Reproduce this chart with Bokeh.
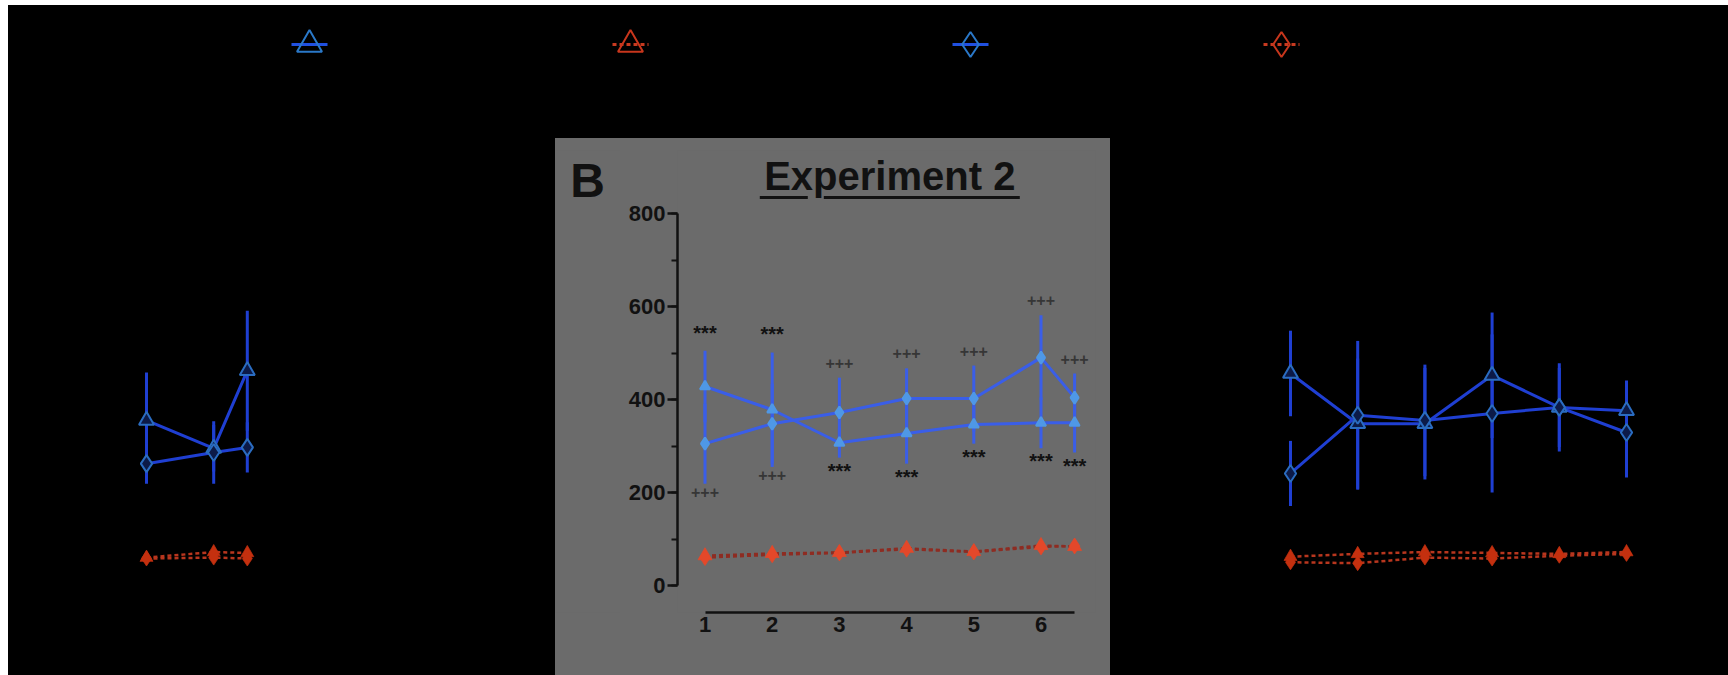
from bokeh.plotting import figure
from bokeh.layouts import column, row, Spacer
from bokeh.models import Range1d, FixedTicker, SingleIntervalTicker, Label, ColumnDataSource
from bokeh.embed import file_html
from bokeh.resources import INLINE
from bokeh.core.properties import value

# ---------------- data ----------------
left_sessions = [1, 2, 2.5]
left_tri = [355, 295, 462]
left_tri_err = [103, 50, 129]
left_dia = [262, 286, 297]
left_dia_err = [43, 67, 54]
left_red_tri = [60, 72, 70]
left_red_dia = [58, 60, 58]

mid_sessions = [1, 2, 3, 4, 5, 6, 6.5]
mid_tri = [428, 378, 307, 327, 346, 350, 350]
mid_tri_err = [77, 123, 32, 65, 41, 55, 64]
mid_dia = [305, 348, 372, 402, 402, 490, 404]
mid_dia_err = [86, 86, 75, 65, 71, 91, 52]
mid_red_tri = [64, 69, 71, 80, 73, 86, 84]
mid_red_dia = [60, 66, 70, 78, 72, 83, 85]
mid_sig_above = ["***", "***", "+++", "+++", "+++", "+++", "+++"]
mid_sig_below = ["+++", "+++", "***", "***", "***", "***", "***"]

right_sessions = [1, 2, 3, 4, 5, 6]
right_tri = [456, 348, 348, 452, 383, 376]
right_tri_err = [92, 140, 120, 135, 95, 65]
right_dia = [241, 366, 355, 370, 383, 329]
right_dia_err = [70, 160, 120, 170, 85, 97]
right_red_tri = [62, 68, 72, 70, 68, 72]
right_red_dia = [50, 48, 60, 58, 64, 68]

x_ticks = [1, 2, 3, 4, 5, 6]
x_tick_labels = ["1", "2", "3", "4", "5", "6"]
y_axis_bounds = (0, 800)
panel_letter = "B"
title_text = "Experiment 2"

# ---------------- layout constants (page pixels) ----------------
PAGE_W, PAGE_H = 1728, 675
MARGIN_L, MARGIN_T = 8, 5
ROW_TOP = 138
TOP_H = ROW_TOP - MARGIN_T
ROW_H = PAGE_H - ROW_TOP
FRAME_TOP, FRAME_BOTTOM = 150, 612
B_TOP = FRAME_TOP - ROW_TOP
B_BOTTOM = PAGE_H - FRAME_BOTTOM
B_RIGHT = 15
PX_Y = 0.465          # pixels per y unit
ZERO_UP = 27          # y=0 sits this many px above the frame bottom
PX_X = 67.2           # pixels per session
FONT = "Liberation Sans"

GRAY = "#6b6b6b"
BLACK = "#000000"
INK = "#111111"


def style_fig(p, bg):
    p.outline_line_color = None
    if "border_line_color" in p.properties():
        p.border_line_color = None
    p.styles = {"background-color": bg}
    p.xgrid.visible = False
    p.ygrid.visible = False


def y_range():
    frame_h = FRAME_BOTTOM - FRAME_TOP
    y0 = -ZERO_UP / PX_Y
    return Range1d(y0, y0 + frame_h / PX_Y)


def panel(width, left_border, first_offset, bg, axes):
    frame_w = width - left_border - B_RIGHT
    x0 = 1 - first_offset / PX_X
    p = figure(width=width, height=ROW_H,
               x_range=Range1d(x0, x0 + frame_w / PX_X), y_range=y_range(),
               output_backend="svg", toolbar_location=None,
               min_border_left=left_border, min_border_right=B_RIGHT,
               min_border_top=B_TOP, min_border_bottom=B_BOTTOM,
               background_fill_color=bg, border_fill_color=bg,
               x_axis_location="below" if axes else None,
               y_axis_location="left" if axes else None)
    style_fig(p, bg)
    return p


def draw(p, x, tri, tri_e, dia, dia_e, rtri, rdia, st):
    p.segment(x0=x, x1=x, y0=[v - e for v, e in zip(tri, tri_e)],
              y1=[v + e for v, e in zip(tri, tri_e)],
              line_color=st["blue"], line_width=3)
    p.segment(x0=x, x1=x, y0=[v - e for v, e in zip(dia, dia_e)],
              y1=[v + e for v, e in zip(dia, dia_e)],
              line_color=st["blue"], line_width=3)
    p.line(x, tri, line_color=st["blue"], line_width=3)
    p.line(x, dia, line_color=st["blue"], line_width=3)
    p.scatter(x, tri, marker="triangle", size=st["msize"], fill_color=st["mfill"],
              line_color=st["mline"], line_width=2)
    p.scatter(x, dia, marker="diamond", size=st["msize"] + 2, fill_color=st["mfill"],
              line_color=st["mline"], line_width=2)
    p.line(x, rtri, line_color=st["rline"], line_width=2.5, line_dash="4 3")
    p.line(x, rdia, line_color=st["rline"], line_width=2.5, line_dash="4 3")
    p.scatter(x, rtri, marker="triangle", size=st["rsize"], fill_color=st["rfill"],
              line_color=st["rfill"], line_alpha=0.7)
    p.scatter(x, rdia, marker="diamond", size=st["rsize"] + 2, fill_color=st["rfill"],
              line_color=st["rfill"], line_alpha=0.7)


dark_style = dict(blue="#1f3fd2", msize=15, mfill="#0c1a48", mline="#2a6cc0",
                  rline="#b8361e", rfill="#c4300f", rsize=13)
mid_style = dict(blue="#3a5ee8", msize=10, mfill="#4f98e6", mline="#4f98e6",
                 rline="#8e2c22", rfill="#e4482a", rsize=14)

# ---------------- top strip with legend symbols ----------------
TOP_W = PAGE_W - MARGIN_L
top = figure(width=TOP_W, height=TOP_H, x_range=Range1d(MARGIN_L, PAGE_W),
             y_range=Range1d(-ROW_TOP, -MARGIN_T),
             output_backend="svg", toolbar_location=None, min_border=0,
             background_fill_color=BLACK, border_fill_color=BLACK,
             x_axis_location=None, y_axis_location=None)
style_fig(top, BLACK)
legend_x = [309, 630, 970, 1281]
legend_y = -44
legend_spec = [("triangle", "#2050e0", "#2a78c8", "solid"),
               ("triangle", "#c83a20", "#c8361c", "4 3"),
               ("diamond", "#2050e0", "#2a78c8", "solid"),
               ("diamond", "#c83a20", "#c8361c", "4 3")]
for lx, (mk, lc, mc, dash) in zip(legend_x, legend_spec):
    top.segment(x0=[lx - 18], x1=[lx + 18], y0=[legend_y], y1=[legend_y],
                line_color=lc, line_width=3, line_dash=dash)
    top.scatter([lx], [legend_y], marker=mk, size=25, fill_color=None,
                line_color=mc, line_width=2)

# ---------------- left (black) panel ----------------
LEFT_END = 555
left = panel(LEFT_END - MARGIN_L, 100, 38, BLACK, False)
draw(left, left_sessions, left_tri, left_tri_err, left_dia, left_dia_err,
     left_red_tri, left_red_dia, dark_style)

# ---------------- panel letter strip (gray) ----------------
MID_START = 620
letter = figure(width=MID_START - LEFT_END, height=ROW_H,
                x_range=Range1d(LEFT_END, MID_START), y_range=Range1d(-PAGE_H, -ROW_TOP),
                output_backend="svg", toolbar_location=None, min_border=0,
                background_fill_color=GRAY, border_fill_color=GRAY,
                x_axis_location=None, y_axis_location=None)
style_fig(letter, GRAY)
letter.text(x=[587], y=[-173], text=[panel_letter], text_font=value(FONT),
            text_font_style="bold", text_font_size="48px", text_color=INK,
            text_align="center", text_baseline="middle")

# ---------------- middle (gray) panel ----------------
MID_END = 1110
mid = panel(MID_END - MID_START, 677 - MID_START, 27.5, GRAY, True)
draw(mid, mid_sessions, mid_tri, mid_tri_err, mid_dia, mid_dia_err,
     mid_red_tri, mid_red_dia, mid_style)

yax = mid.yaxis[0]
yax.ticker = SingleIntervalTicker(interval=200, num_minor_ticks=2)
yax.bounds = y_axis_bounds
yax.axis_line_color = INK
yax.axis_line_width = 2.5
yax.major_tick_line_color = INK
yax.major_tick_line_width = 2.5
yax.major_tick_out = 10
yax.major_tick_in = 0
yax.minor_tick_line_color = INK
yax.minor_tick_line_width = 2
yax.minor_tick_out = 6
yax.minor_tick_in = 0
yax.major_label_text_font = FONT
yax.major_label_text_font_style = "bold"
yax.major_label_text_font_size = "22px"
yax.major_label_text_color = INK
yax.major_label_standoff = 2

xax = mid.xaxis[0]
xax.ticker = FixedTicker(ticks=x_ticks)
xax.major_label_overrides = {t: s for t, s in zip(x_ticks, x_tick_labels)}
xax.bounds = (min(mid_sessions), max(mid_sessions))
xax.axis_line_color = INK
xax.axis_line_width = 2.5
xax.major_tick_line_color = None
xax.minor_tick_line_color = None
xax.major_tick_out = 0
xax.major_tick_in = 0
xax.major_label_text_font = FONT
xax.major_label_text_font_style = "bold"
xax.major_label_text_font_size = "22px"
xax.major_label_text_color = INK
xax.major_label_standoff = 4

# significance marks, placed just beyond the error bars
tops = [max(a + ea, b + eb) for a, ea, b, eb in zip(mid_tri, mid_tri_err, mid_dia, mid_dia_err)]
bots = [min(a - ea, b - eb) for a, ea, b, eb in zip(mid_tri, mid_tri_err, mid_dia, mid_dia_err)]
above_off = {"***": 39, "+++": 32}
below_off = {"***": -28, "+++": -18}
sig_x = mid_sessions + mid_sessions
sig_text = mid_sig_above + mid_sig_below
sig_y = [t + above_off[s] for t, s in zip(tops, mid_sig_above)] + \
        [b + below_off[s] for b, s in zip(bots, mid_sig_below)]
sig_col = [INK if s == "***" else "#363636" for s in sig_text]
sig_size = ["20px" if s == "***" else "16px" for s in sig_text]
src = ColumnDataSource(dict(x=sig_x, y=sig_y, t=sig_text, c=sig_col, s=sig_size))
mid.text(x="x", y="y", text="t", source=src, text_color="c", text_font_size="s",
         text_font=value(FONT), text_font_style="bold",
         text_align="center", text_baseline="middle")

# title and underline
zero_page = FRAME_BOTTOM - ZERO_UP   # page y of value 0
title_cx = (min(mid_sessions) + max(mid_sessions)) / 2
title_y = (zero_page - 175) / PX_Y
mid.add_layout(Label(x=title_cx, y=title_y, text=title_text, text_font=FONT,
                     text_font_style="bold", text_font_size="40px", text_color=INK,
                     text_align="center", text_baseline="middle"))
half_w = 130 / PX_X
ul_y = (zero_page - 197) / PX_Y
ul_x0 = title_cx - half_w
mid.segment(x0=[ul_x0, ul_x0 + 64 / PX_X], x1=[ul_x0 + 48 / PX_X, title_cx + half_w],
            y0=[ul_y, ul_y], y1=[ul_y, ul_y], line_color=INK, line_width=3)

# ---------------- right (black) panel ----------------
right = panel(PAGE_W - MID_END, 1260 - MID_END, 30, BLACK, False)
draw(right, right_sessions, right_tri, right_tri_err, right_dia, right_dia_err,
     right_red_tri, right_red_dia, dark_style)

panels = row(left, letter, mid, right, spacing=0, styles={"background-color": BLACK})
body = column(top, panels, spacing=0, styles={"background-color": BLACK})
layout = column(
    Spacer(width=PAGE_W, height=MARGIN_T),
    row(Spacer(width=MARGIN_L, height=PAGE_H - MARGIN_T), body, spacing=0),
    spacing=0)
open("out.html", "w").write(file_html(layout, INLINE))
